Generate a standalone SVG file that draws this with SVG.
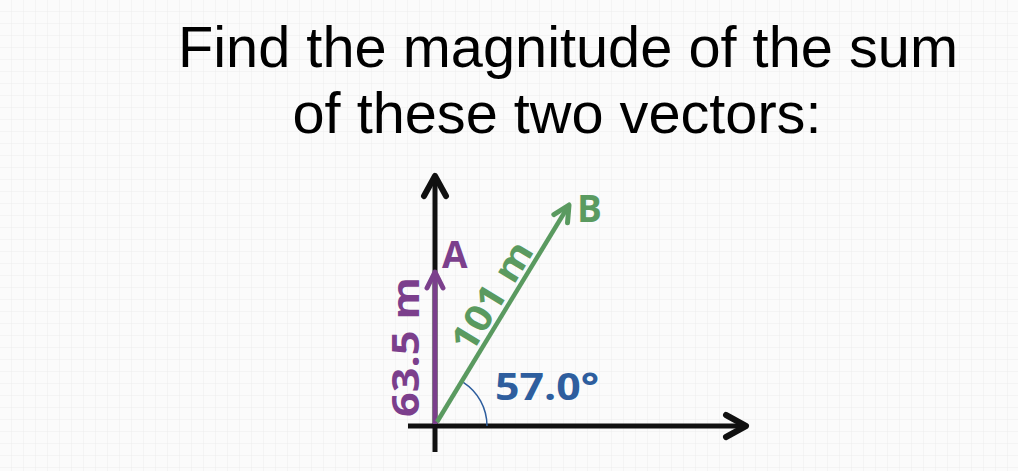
<svg xmlns="http://www.w3.org/2000/svg" width="1018" height="471" viewBox="0 0 1018 471">
<defs>
<pattern id="grid" width="12" height="12" patternUnits="userSpaceOnUse">
<path d="M12 0V12M0 12H12" fill="none" stroke="#ececec" stroke-width="1"/>
</pattern>
<marker id="ahK" viewBox="0 0 30 30" refX="26" refY="15" markerWidth="30" markerHeight="30" markerUnits="userSpaceOnUse" orient="auto">
<path d="M6 4L26 15L6 26" fill="none" stroke="#111" stroke-width="6" stroke-linecap="round" stroke-linejoin="round"/>
</marker>
<marker id="ahP" viewBox="0 0 24 24" refX="21" refY="12" markerWidth="24" markerHeight="24" markerUnits="userSpaceOnUse" orient="auto">
<path d="M5 4L21 12L5 20" fill="none" stroke="#7b3f8c" stroke-width="5" stroke-linecap="round" stroke-linejoin="round"/>
</marker>
<marker id="ahG" viewBox="0 0 24 24" refX="21" refY="12" markerWidth="24" markerHeight="24" markerUnits="userSpaceOnUse" orient="auto">
<path d="M5 4L21 12L5 20" fill="none" stroke="#5a9a60" stroke-width="5" stroke-linecap="round" stroke-linejoin="round"/>
</marker>
</defs>
<style>
.title{font-family:"Liberation Sans",Arial,sans-serif;font-size:58px;fill:#000}
.lbl{font-family:"Open Sans","Liberation Sans",sans-serif;font-weight:700;font-size:37px}
</style>
<rect width="1018" height="471" fill="#fbfbfb"/>
<rect width="1018" height="471" fill="url(#grid)"/>
<g id="title">
<text class="title" x="568" y="67" text-anchor="middle" textLength="780" lengthAdjust="spacingAndGlyphs">Find the magnitude of the sum</text>
<text class="title" x="557" y="133" text-anchor="middle" textLength="529" lengthAdjust="spacingAndGlyphs">of these two vectors:</text>
</g>
<g id="connectors">
<line x1="435" y1="452" x2="435" y2="176" stroke="#111" stroke-width="5" marker-end="url(#ahK)"/>
<line x1="408" y1="426" x2="746" y2="426" stroke="#111" stroke-width="5" marker-end="url(#ahK)"/>
<path d="M487 426A52 52 0 0 0 463.3 382.4" fill="none" stroke="#2e5e9e" stroke-width="1.5"/>
</g>
<g id="vectorA">
<line x1="435" y1="424" x2="435" y2="272" stroke="#7b3f8c" stroke-width="4.5" marker-end="url(#ahP)"/>
<text class="lbl" x="442" y="268" fill="#7b3f8c">A</text>
<text class="lbl" x="419" y="347" fill="#7b3f8c" text-anchor="middle" textLength="140" lengthAdjust="spacingAndGlyphs" transform="rotate(-90 419 347)">63.5 m</text>
</g>
<g id="vectorB">
<line x1="437" y1="422" x2="569" y2="205" stroke="#5a9a60" stroke-width="4.5" marker-end="url(#ahG)"/>
<text class="lbl" x="577" y="222" fill="#5a9a60">B</text>
<text class="lbl" x="503" y="303" fill="#5a9a60" text-anchor="middle" textLength="122" lengthAdjust="spacingAndGlyphs" transform="rotate(-58.7 503 303)">101 m</text>
</g>
<g id="angle">
<text class="lbl" x="495" y="400" fill="#2e5e9e" textLength="104" lengthAdjust="spacingAndGlyphs">57.0°</text>
</g>
</svg>
